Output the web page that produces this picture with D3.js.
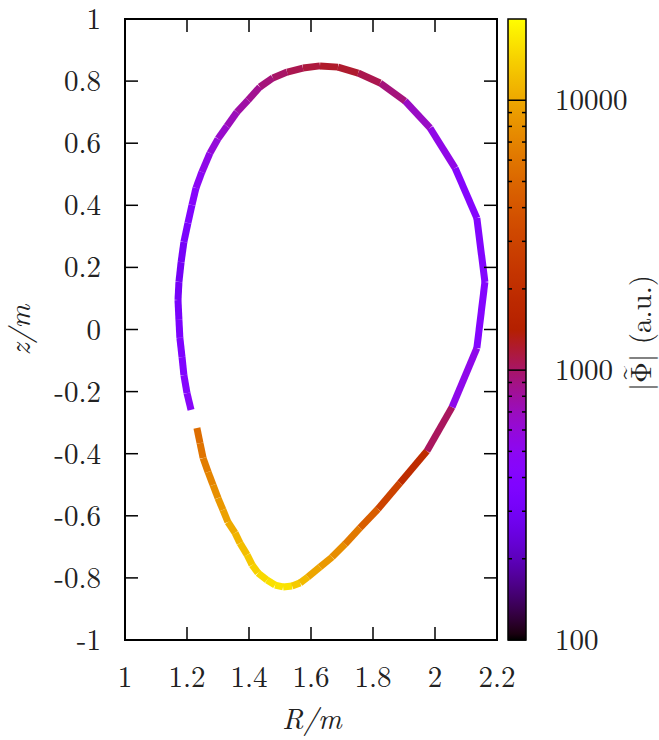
<!DOCTYPE html>
<html>
<head>
<meta charset="utf-8">
<script src="https://cdn.jsdelivr.net/npm/d3@7"></script>
<style>
  body { margin: 0; background: #fff; }
</style>
</head>
<body>
<div id="chart"></div>
<script>
// boundary points (R, z) going from the gap at the lower left, along the bottom, up the right side, over the top, down the left
const R = [1.232, 1.242, 1.252, 1.268, 1.284, 1.300, 1.316, 1.332, 1.355, 1.371, 1.394, 1.410, 1.429, 1.458, 1.484,
  1.510, 1.539, 1.565, 1.590, 1.629, 1.668, 1.710, 1.758, 1.816, 1.887, 1.974, 2.055, 2.135, 2.161, 2.135,
  2.065, 1.984, 1.903, 1.823, 1.752, 1.687, 1.629, 1.574, 1.523, 1.477, 1.435, 1.397, 1.361, 1.329, 1.300,
  1.274, 1.248, 1.229, 1.216, 1.203, 1.190, 1.181, 1.174, 1.171, 1.174, 1.177, 1.184, 1.190, 1.200, 1.213];
const Z = [-0.317, -0.366, -0.414, -0.459, -0.501, -0.543, -0.581, -0.620, -0.655, -0.688, -0.726, -0.758, -0.784, -0.807, -0.823,
  -0.829, -0.826, -0.816, -0.797, -0.765, -0.733, -0.691, -0.639, -0.578, -0.494, -0.391, -0.250, -0.060, 0.153, 0.359,
  0.520, 0.649, 0.736, 0.794, 0.826, 0.845, 0.849, 0.842, 0.829, 0.810, 0.781, 0.739, 0.700, 0.655, 0.614,
  0.568, 0.507, 0.456, 0.401, 0.343, 0.282, 0.217, 0.153, 0.095, 0.031, -0.027, -0.089, -0.147, -0.205, -0.259];
// |Phi| per segment (between point i and i+1)
const amp = [5400, 5900, 6500, 7100, 7800, 8600, 9400, 10300, 11200, 12200, 13200, 14200, 15200, 16000, 16500,
  16200, 13500, 11800, 9800, 8600, 7700, 6200, 4400, 3000, 1900, 1030, 530, 410, 400, 420,
  545, 670, 920, 1085, 1210, 1230, 1150, 1080, 1000, 930, 850, 780, 710, 650, 600,
  540, 480, 430, 380, 340, 310, 300, 310, 330, 350, 370, 390, 420, 450];

const xTicks = [1, 1.2, 1.4, 1.6, 1.8, 2, 2.2];
const yTicks = [-1, -0.8, -0.6, -0.4, -0.2, 0, 0.2, 0.4, 0.6, 0.8, 1];
const cbTicks = [100, 1000, 10000];
const cbMinor = [200, 300, 400, 500, 600, 700, 800, 900, 2000, 3000, 4000, 5000, 6000, 7000, 8000, 9000];

const width = 659, height = 740;
const plot = {left: 125, right: 497, top: 19, bottom: 640};
const cb = {left: 508, right: 526};
const tickLen = 13;
const fs = 29;
const font = '"Latin Modern Roman", "CMU Serif", "Liberation Serif", serif';

const svg = d3.select('#chart').append('svg')
  .attr('width', width)
  .attr('height', height);

const x = d3.scaleLinear().domain([1, 2.2]).range([plot.left, plot.right]);
const y = d3.scaleLinear().domain([-1, 1]).range([plot.bottom, plot.top]);
const cbScale = d3.scaleLog().domain([100, 20000]).range([plot.bottom, plot.top]);
const gray = d3.scaleLog().domain([100, 20000]).range([0, 1]).clamp(true);

// gnuplot default palette (rgbformulae 7,5,15)
function pal(t) {
  const r = Math.sqrt(t), g = t * t * t, b = Math.max(0, Math.sin(2 * Math.PI * t));
  return d3.rgb(r * 255, g * 255, b * 255).toString();
}

function label(sel) {
  return sel.style('font-family', font).style('font-size', fs + 'px').style('fill', '#222');
}

// curve segments
const segs = amp.map((v, i) => ({x1: R[i], y1: Z[i], x2: R[i + 1], y2: Z[i + 1], v}));
svg.append('g').selectAll('line').data(segs).enter()
  .append('line')
  .attr('x1', d => x(d.x1)).attr('y1', d => y(d.y1))
  .attr('x2', d => x(d.x2)).attr('y2', d => y(d.y2))
  .attr('stroke', d => pal(gray(d.v)))
  .attr('stroke-width', 7)
  .attr('stroke-linecap', 'butt');

// frame + ticks (mirrored, inward)
const axes = svg.append('g').attr('stroke', '#000').attr('stroke-width', 1.5);
xTicks.forEach(t => {
  axes.append('line').attr('x1', x(t)).attr('x2', x(t)).attr('y1', plot.bottom).attr('y2', plot.bottom - tickLen);
  axes.append('line').attr('x1', x(t)).attr('x2', x(t)).attr('y1', plot.top).attr('y2', plot.top + tickLen);
});
yTicks.forEach(t => {
  axes.append('line').attr('y1', y(t)).attr('y2', y(t)).attr('x1', plot.left).attr('x2', plot.left + tickLen);
  axes.append('line').attr('y1', y(t)).attr('y2', y(t)).attr('x1', plot.right).attr('x2', plot.right - tickLen);
});
svg.append('rect')
  .attr('x', plot.left).attr('y', plot.top)
  .attr('width', plot.right - plot.left).attr('height', plot.bottom - plot.top)
  .attr('fill', 'none').attr('stroke', '#000').attr('stroke-width', 2);

svg.append('g').selectAll('text').data(xTicks).enter()
  .append('text')
  .attr('x', d => x(d)).attr('y', 687)
  .attr('text-anchor', 'middle')
  .call(label)
  .text(d => d);
svg.append('g').selectAll('text').data(yTicks).enter()
  .append('text')
  .attr('x', 101).attr('y', d => y(d) + 10)
  .attr('text-anchor', 'end')
  .call(label)
  .text(d => d);

svg.append('text')
  .attr('x', 312).attr('y', 729)
  .attr('text-anchor', 'middle')
  .call(label)
  .style('font-style', 'italic')
  .text('R/m');
svg.append('text')
  .attr('transform', 'translate(30,330) rotate(-90)')
  .attr('text-anchor', 'middle')
  .call(label)
  .style('font-style', 'italic')
  .text('z/m');

// colour box
const grad = svg.append('defs').append('linearGradient')
  .attr('id', 'cbgrad')
  .attr('x1', 0).attr('y1', 1).attr('x2', 0).attr('y2', 0);
d3.range(0, 1.0001, 0.01).forEach(t => {
  grad.append('stop').attr('offset', t).attr('stop-color', pal(t));
});
svg.append('rect')
  .attr('x', cb.left).attr('y', plot.top)
  .attr('width', cb.right - cb.left).attr('height', plot.bottom - plot.top)
  .attr('fill', 'url(#cbgrad)')
  .attr('stroke', '#000').attr('stroke-width', 1.5);

const cbAxes = svg.append('g').attr('stroke', '#000').attr('stroke-width', 1.5);
cbTicks.forEach(t => {
  cbAxes.append('line').attr('x1', cb.left).attr('x2', cb.right).attr('y1', cbScale(t)).attr('y2', cbScale(t));
});
cbMinor.forEach(t => {
  cbAxes.append('line').attr('x1', cb.left).attr('x2', cb.left + 4).attr('y1', cbScale(t)).attr('y2', cbScale(t));
  cbAxes.append('line').attr('x1', cb.right).attr('x2', cb.right - 4).attr('y1', cbScale(t)).attr('y2', cbScale(t));
});
svg.append('g').selectAll('text').data(cbTicks).enter()
  .append('text')
  .attr('x', 555).attr('y', d => cbScale(d) + 10)
  .call(label)
  .text(d => d);

// colour box label, tilde placed over Phi
const lab = svg.append('g').attr('transform', 'translate(651,333) rotate(-90)');
const labText = lab.append('text')
  .attr('text-anchor', 'middle')
  .call(label)
  .text('|\u03A6| (a.u.)');
const phiBox = labText.node().getExtentOfChar(1);
lab.append('text')
  .attr('x', phiBox.x + phiBox.width / 2)
  .attr('y', -20)
  .attr('text-anchor', 'middle')
  .call(label)
  .style('font-size', '24px')
  .text('~');
</script>
</body>
</html>
